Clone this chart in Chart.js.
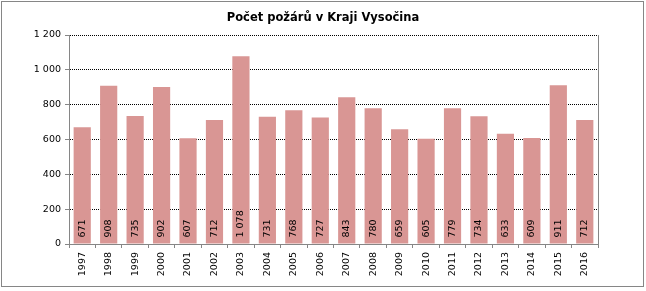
<!DOCTYPE html>
<html>
<head>
<meta charset="utf-8">
<script src="https://cdn.jsdelivr.net/npm/chart.js@4"></script>
<style>
    body { margin: 0; background: #fff; }
    #wrap { width: 646px; height: 291px; position: relative; }
</style>
</head>
<body>
<div id="wrap"><canvas id="chart"></canvas></div>
<script>
// Data - number of fires per year
const years = ['1997', '1998', '1999', '2000', '2001', '2002', '2003', '2004', '2005', '2006',
               '2007', '2008', '2009', '2010', '2011', '2012', '2013', '2014', '2015', '2016'];
const fires = [671, 908, 735, 902, 607, 712, 1078, 731, 768, 727,
               843, 780, 659, 605, 779, 734, 633, 609, 911, 712];
const yTicks = [0, 200, 400, 600, 800, 1000, 1200];

const FONT = 'DejaVu Sans';
const AXIS_GRAY = '#868686';

// thousands separator like "1 200"
function fmt(v) {
    return String(v).replace(/\B(?=(\d{3})+(?!\d))/g, ' ');
}

// outer frame + right border of plot area
const framePlugin = {
    id: 'frame',
    afterDraw(chart) {
        const ctx = chart.ctx;
        const a = chart.chartArea;
        ctx.save();
        ctx.strokeStyle = AXIS_GRAY;
        ctx.lineWidth = 1;
        ctx.strokeRect(1.5, 1.5, 642, 285);
        ctx.beginPath();
        ctx.moveTo(Math.round(a.right) + 0.5, a.top);
        ctx.lineTo(Math.round(a.right) + 0.5, a.bottom);
        ctx.stroke();
        ctx.restore();
    }
};

// vertical value labels at the bottom of each bar
const valueLabels = {
    id: 'valueLabels',
    afterDatasetsDraw(chart) {
        const ctx = chart.ctx;
        const meta = chart.getDatasetMeta(0);
        ctx.save();
        ctx.font = '9.5px "' + FONT + '"';
        ctx.fillStyle = '#000';
        ctx.textAlign = 'left';
        ctx.textBaseline = 'middle';
        meta.data.forEach((bar, i) => {
            ctx.save();
            ctx.translate(bar.x, bar.base - 6);
            ctx.rotate(-Math.PI / 2);
            ctx.fillText(fmt(fires[i]), 0, 0);
            ctx.restore();
        });
        ctx.restore();
    }
};

new Chart(document.getElementById('chart'), {
    type: 'bar',
    data: {
        labels: years,
        datasets: [{
            data: fires,
            backgroundColor: '#D99694',
            borderWidth: 0,
            barPercentage: 0.65,
            categoryPercentage: 1
        }]
    },
    options: {
        responsive: true,
        maintainAspectRatio: false,
        animation: false,
        layout: { padding: 0 },
        plugins: {
            legend: { display: false },
            tooltip: { enabled: false },
            title: {
                display: true,
                text: 'Počet požárů v Kraji Vysočina',
                color: '#000',
                font: { family: FONT, size: 11.5, weight: 'bold' },
                padding: { top: 11, bottom: 10.2 }
            }
        },
        scales: {
            x: {
                offset: true,
                grid: {
                    offset: true,
                    drawOnChartArea: false,
                    drawTicks: true,
                    tickLength: 4,
                    tickColor: AXIS_GRAY
                },
                border: { display: true, color: AXIS_GRAY },
                ticks: {
                    color: '#000',
                    font: { family: FONT, size: 9.5 },
                    minRotation: 90,
                    maxRotation: 90,
                    padding: 4,
                    autoSkip: false
                },
                afterFit(scale) { scale.height = 47; }
            },
            y: {
                min: 0,
                max: 1200,
                afterBuildTicks(scale) {
                    scale.ticks = yTicks.map(v => ({ value: v }));
                },
                grid: {
                    color: c => (c.tick && c.tick.value === 0) ? 'transparent' : '#000',
                    tickColor: AXIS_GRAY,
                    tickLength: 4
                },
                border: { display: true, color: AXIS_GRAY, dash: [1, 1] },
                ticks: {
                    color: '#000',
                    font: { family: FONT, size: 9.5 },
                    padding: 4,
                    callback: v => fmt(v)
                },
                afterFit(scale) { scale.width = 69; }
            },
            // empty right axis, only reserves the blank strip right of the plot
            yRight: {
                position: 'right',
                min: 0,
                max: 1200,
                grid: { display: false },
                border: { display: false },
                ticks: { display: false },
                afterFit(scale) { scale.width = 48; }
            }
        }
    },
    plugins: [framePlugin, valueLabels]
});
</script>
</body>
</html>
